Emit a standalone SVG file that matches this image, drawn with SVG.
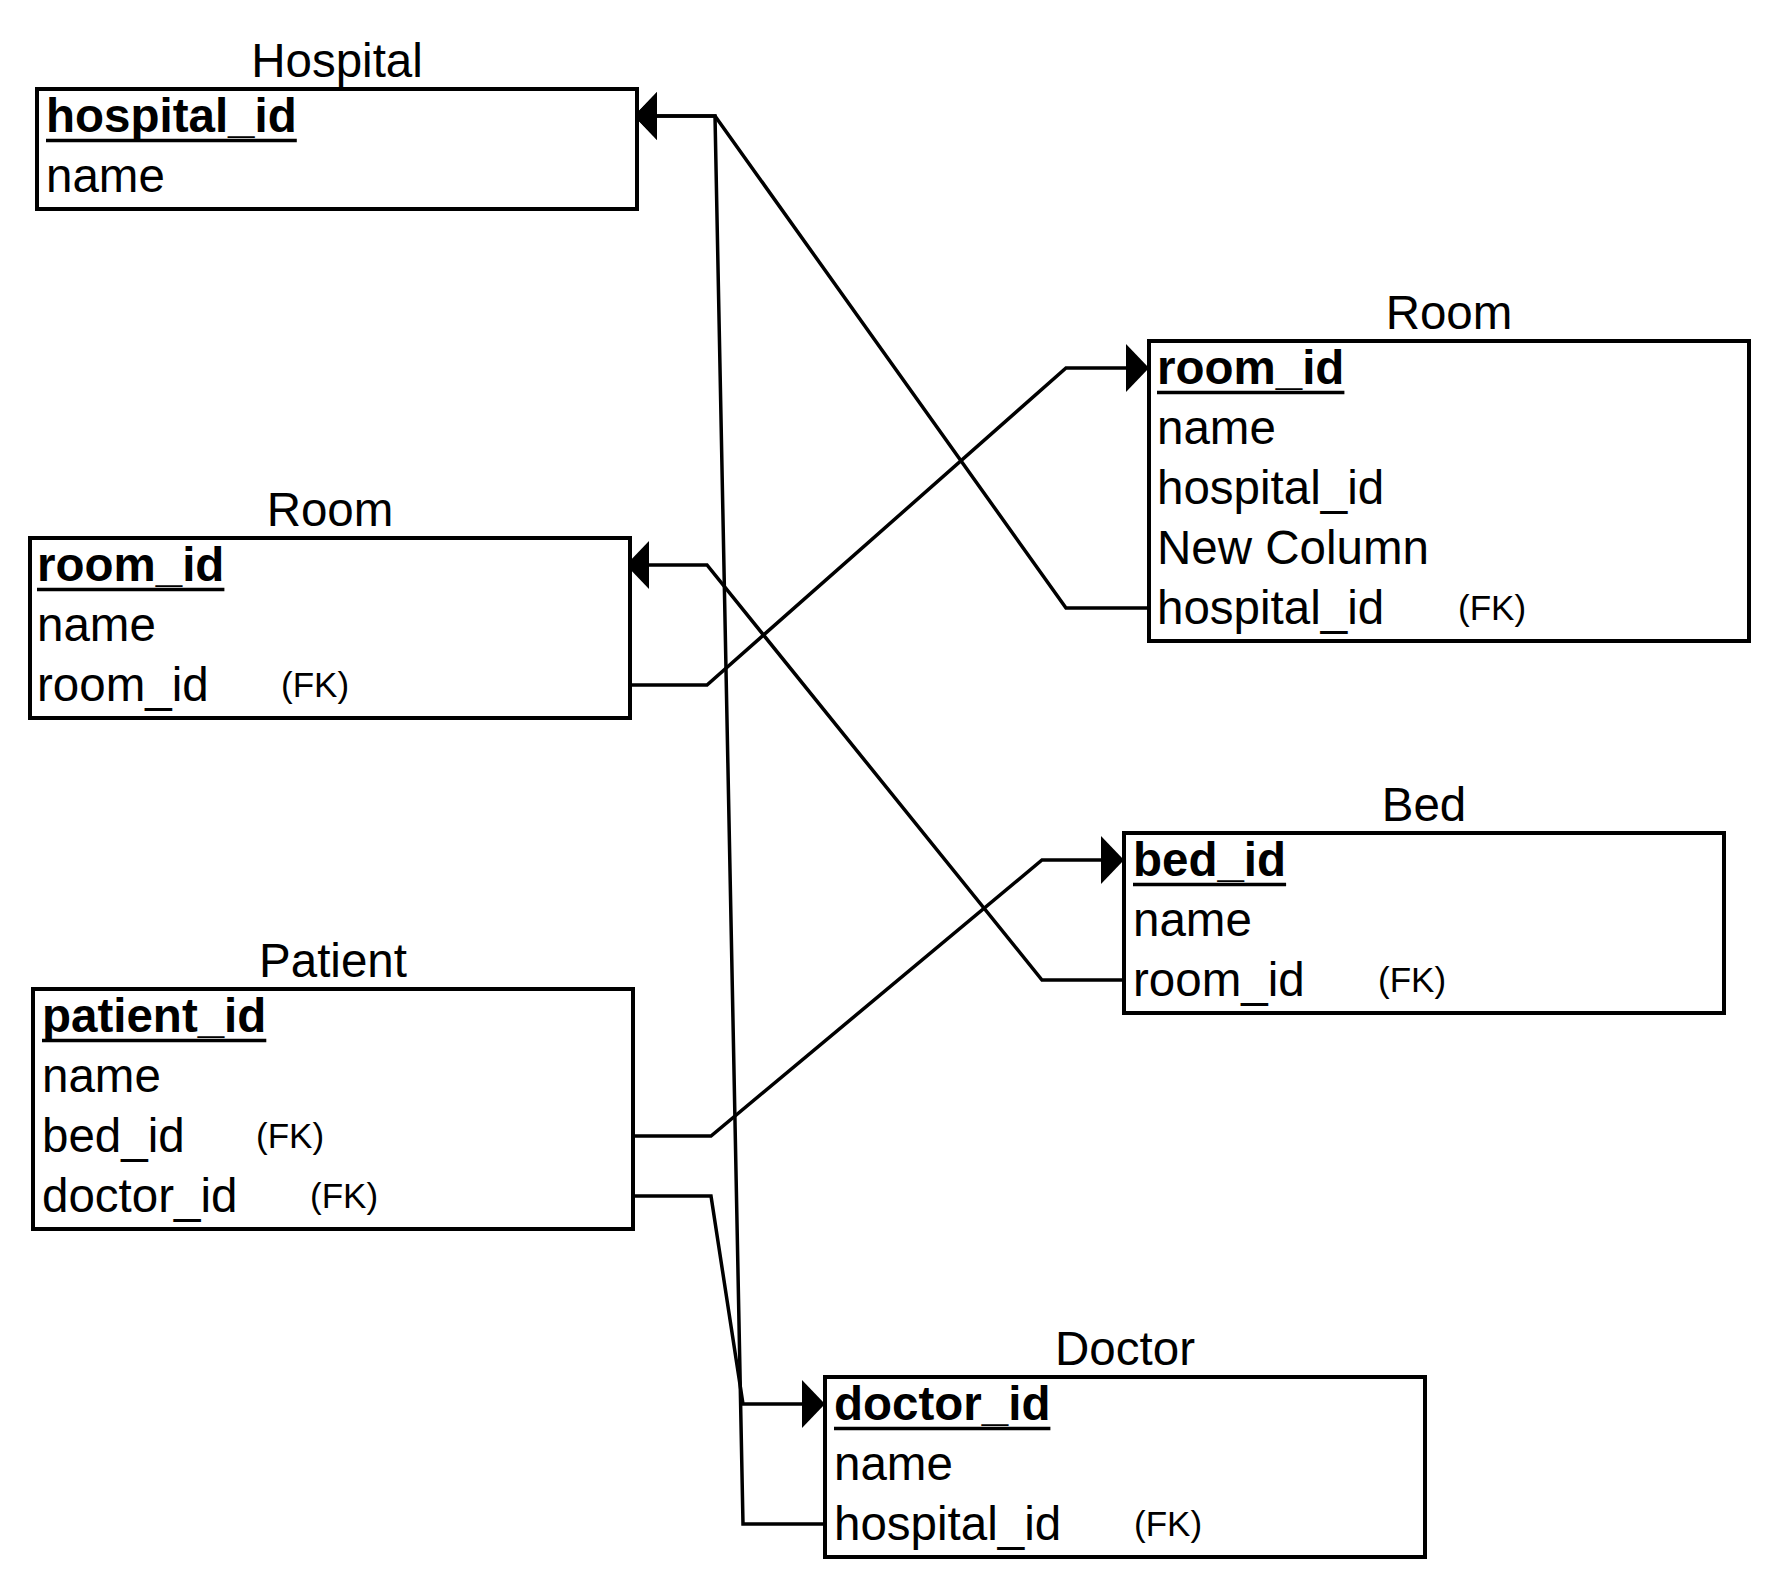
<svg xmlns="http://www.w3.org/2000/svg" width="1776" height="1584" viewBox="0 0 1776 1584">
  <style>
    .box { fill: #ffffff; stroke: #000000; stroke-width: 4; }
    .title { font-family: "Liberation Sans", Arial, sans-serif; font-size: 47.5px; fill: #000000; text-anchor: middle; }
    .row { font-family: "Liberation Sans", Arial, sans-serif; font-size: 47.5px; fill: #000000; }
    .pk { font-family: "Liberation Sans", Arial, sans-serif; font-size: 47.5px; font-weight: bold; fill: #000000; }
    .fk { font-family: "Liberation Sans", Arial, sans-serif; font-size: 35px; fill: #000000; }
    .ul { stroke: #000000; stroke-width: 3.5; }
    .link { fill: none; stroke: #000000; stroke-width: 3.5; stroke-linejoin: miter; }
  </style>
  <defs>
    <marker id="arrow" markerUnits="userSpaceOnUse" markerWidth="24" markerHeight="50" refX="0" refY="24" orient="auto" overflow="visible">
      <path d="M0,0 L23,24 L0,48 Z" fill="#000000"/>
    </marker>
  </defs>

  <rect width="1776" height="1584" fill="#ffffff"/>

  <!-- relationship lines -->
  <g id="connectors">
    <!-- Room.hospital_id -> Hospital.hospital_id -->
    <path class="link" d="M1149,608 L1066,608 L715,116 L657,116" marker-end="url(#arrow)"/>
    <!-- Room(left).room_id FK -> Room(right).room_id -->
    <path class="link" d="M630,685 L707,685 L1066,368 L1126,368" marker-end="url(#arrow)"/>
    <!-- Bed.room_id -> Room(left).room_id -->
    <path class="link" d="M1124,980 L1042,980 L707,565 L649,565" marker-end="url(#arrow)"/>
    <!-- Patient.bed_id -> Bed.bed_id -->
    <path class="link" d="M633,1136 L711,1136 L1042,860 L1101,860" marker-end="url(#arrow)"/>
    <!-- Patient.doctor_id -> Doctor.doctor_id -->
    <path class="link" d="M633,1196 L711,1196 L743,1404 L802,1404" marker-end="url(#arrow)"/>
    <!-- Doctor.hospital_id -> Hospital.hospital_id -->
    <path class="link" d="M825,1524 L743,1524 L715,116 L657,116" marker-end="url(#arrow)"/>
  </g>

  <!-- Hospital -->
  <g id="hospital">
    <text class="title" x="337" y="77">Hospital</text>
    <rect class="box" x="37" y="89" width="600" height="120"/>
    <text class="pk" x="46" y="132">hospital_id</text>
    <line class="ul" x1="46" y1="140.5" x2="296.8" y2="140.5"/>
    <text class="row" x="46" y="192">name</text>
  </g>

  <!-- Room (right) -->
  <g id="room-right">
    <text class="title" x="1449" y="329">Room</text>
    <rect class="box" x="1149" y="341" width="600" height="300"/>
    <text class="pk" x="1157" y="384">room_id</text>
    <line class="ul" x1="1157" y1="392.5" x2="1344.4" y2="392.5"/>
    <text class="row" x="1157" y="444">name</text>
    <text class="row" x="1157" y="504">hospital_id</text>
    <text class="row" x="1157" y="564">New Column</text>
    <text class="row" x="1157" y="624">hospital_id</text>
    <text class="fk" x="1458" y="620">(FK)</text>
  </g>

  <!-- Room (left) -->
  <g id="room-left">
    <text class="title" x="330" y="526">Room</text>
    <rect class="box" x="30" y="538" width="600" height="180"/>
    <text class="pk" x="37" y="581">room_id</text>
    <line class="ul" x1="37" y1="589.5" x2="224.4" y2="589.5"/>
    <text class="row" x="37" y="641">name</text>
    <text class="row" x="37" y="701">room_id</text>
    <text class="fk" x="281" y="697">(FK)</text>
  </g>

  <!-- Bed -->
  <g id="bed">
    <text class="title" x="1424" y="821">Bed</text>
    <rect class="box" x="1124" y="833" width="600" height="180"/>
    <text class="pk" x="1133" y="876">bed_id</text>
    <line class="ul" x1="1133" y1="884.5" x2="1286.1" y2="884.5"/>
    <text class="row" x="1133" y="936">name</text>
    <text class="row" x="1133" y="996">room_id</text>
    <text class="fk" x="1378" y="992">(FK)</text>
  </g>

  <!-- Patient -->
  <g id="patient">
    <text class="title" x="333" y="977">Patient</text>
    <rect class="box" x="33" y="989" width="600" height="240"/>
    <text class="pk" x="42" y="1032">patient_id</text>
    <line class="ul" x1="42" y1="1040.5" x2="266.3" y2="1040.5"/>
    <text class="row" x="42" y="1092">name</text>
    <text class="row" x="42" y="1152">bed_id</text>
    <text class="fk" x="256" y="1148">(FK)</text>
    <text class="row" x="42" y="1212">doctor_id</text>
    <text class="fk" x="310" y="1208">(FK)</text>
  </g>

  <!-- Doctor -->
  <g id="doctor">
    <text class="title" x="1125" y="1365">Doctor</text>
    <rect class="box" x="825" y="1377" width="600" height="180"/>
    <text class="pk" x="834" y="1420">doctor_id</text>
    <line class="ul" x1="834" y1="1428.5" x2="1050.4" y2="1428.5"/>
    <text class="row" x="834" y="1480">name</text>
    <text class="row" x="834" y="1540">hospital_id</text>
    <text class="fk" x="1134" y="1536">(FK)</text>
  </g>
</svg>
